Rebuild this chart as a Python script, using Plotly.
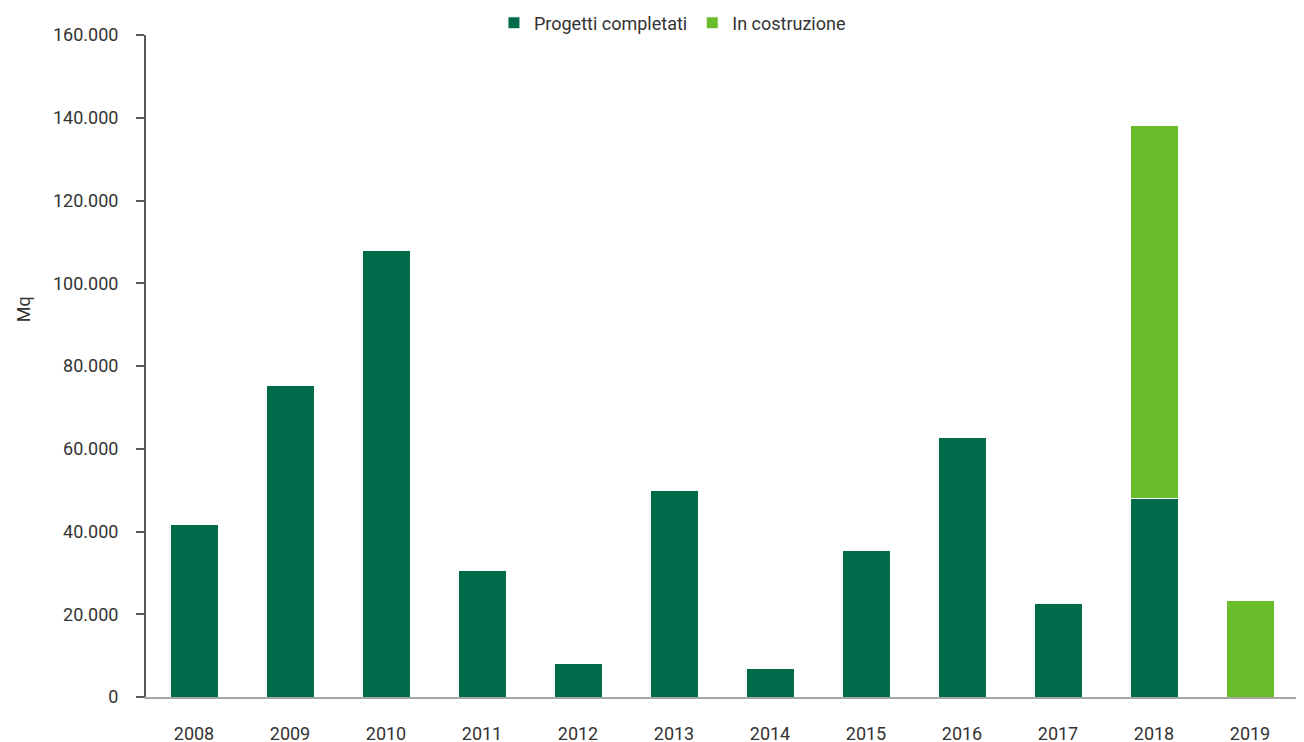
import plotly.graph_objects as go

years = ["2008", "2009", "2010", "2011", "2012", "2013", "2014", "2015", "2016", "2017", "2018", "2019"]
completati = [41800, 75400, 108000, 30500, 8000, 49800, 6800, 35500, 62800, 22700, 47900, 0]
costruzione = [0, 0, 0, 0, 0, 0, 0, 0, 0, 0, 90300, 23400]

FONT = "Roboto, sans-serif"

fig = go.Figure()
fig.add_trace(go.Bar(
    x=years, y=completati, name="Progetti completati",
    marker=dict(color="#006B4A", line=dict(color="white", width=1)),
))
fig.add_trace(go.Bar(
    x=years, y=costruzione, name="In costruzione",
    marker=dict(color="#6ABD2A", line=dict(color="white", width=1)),
))

fig.update_layout(
    barmode="stack",
    bargap=0.5,
    width=1304, height=742,
    margin=dict(l=138, r=14, t=27, b=53, autoexpand=False),
    plot_bgcolor="white", paper_bgcolor="white",
    font=dict(family=FONT, size=18, color="#333333"),
    separators=",.",
    legend=dict(orientation="h", x=0.457, xanchor="center", y=1.018, yanchor="middle",
                font=dict(size=18), traceorder="normal"),
    showlegend=True,
    annotations=[dict(text="Mq", textangle=-90, x=0, xref="paper", xshift=-135,
                      y=0.585, yref="paper", showarrow=False,
                      font=dict(size=18))],
)
fig.update_yaxes(
    range=[0, 160000], dtick=20000, tickformat=",",
    showgrid=False, zeroline=False,
    showline=True, linecolor="#595959", linewidth=2,
    ticks="outside", ticklen=8, tickcolor="#595959", tickwidth=2,
    ticklabelstandoff=14,
)
fig.update_xaxes(
    showgrid=False, showline=True, linecolor="#a6a6a6", linewidth=1.5,
    ticks="", ticklabelstandoff=20,
)

fig.write_html("out.html")
